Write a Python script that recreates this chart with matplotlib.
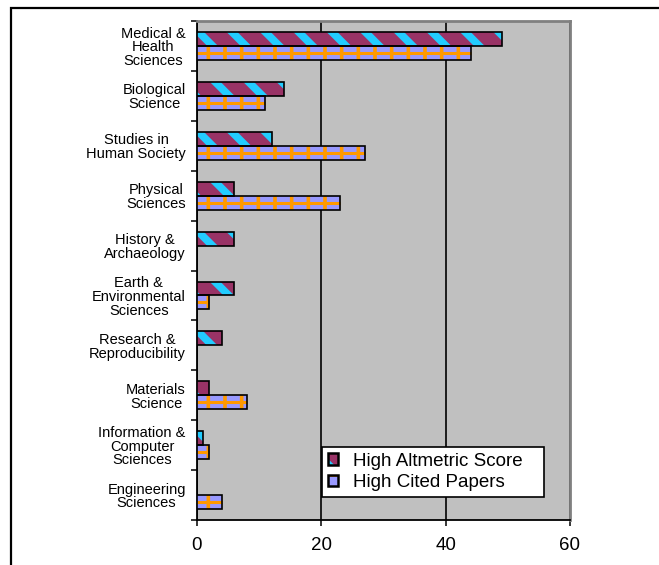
import matplotlib
matplotlib.use("Agg")
import matplotlib.pyplot as plt
import numpy as np
from matplotlib.patches import Patch, Rectangle
from matplotlib.legend_handler import HandlerTuple

plt.rcParams['font.family'] = ['Liberation Sans', 'DejaVu Sans']
plt.rcParams['hatch.linewidth'] = 2.6

fields = [
    "Medical &\nHealth\nSciences",
    "Biological\nScience",
    "Studies in\nHuman Society",
    "Physical\nSciences",
    "History &\nArchaeology",
    "Earth &\nEnvironmental\nSciences",
    "Research &\nReproducibility",
    "Materials\nScience",
    "Information &\nComputer\nSciences",
    "Engineering\nSciences",
]
altmetric = [49, 14, 12, 6, 6, 6, 4, 2, 1, 0]
cited = [44, 11, 27, 23, 0, 2, 0, 8, 2, 4]
x_ticks = [0, 20, 40, 60]

# fill / hatch colour pairs, excel style
ALT_FACE, ALT_HATCH = '#993366', '#22CCFF'
CIT_FACE, CIT_HATCH = '#9999FF', '#FF9900'
ALT_HLW, CIT_HLW = 5.5, 2.6


def set_hatch_width(patch, hlw):
    if hasattr(patch, 'set_hatch_linewidth'):
        patch.set_hatch_linewidth(hlw)
    else:
        patch._hatch_linewidth = hlw


def hatched_barh(ax, y, vals, h, face, hcol, hatch, hlw):
    """bars with coloured hatch, then a black outline on top"""
    bars = ax.barh(y, vals, height=h, color=face, edgecolor=hcol,
                   hatch=hatch, linewidth=0, zorder=3)
    for b in bars:
        set_hatch_width(b, hlw)
    ax.barh(y, vals, height=h, fill=False, edgecolor='black',
            linewidth=1.2, zorder=4)


fig = plt.figure(figsize=(6.59, 5.65), dpi=100)
ax = fig.add_axes([0.2989, 0.0796, 0.5660, 0.8832])
ax.set_facecolor('#C0C0C0')

pos = np.arange(len(fields))
bh = 0.28
hatched_barh(ax, pos - bh / 2, altmetric, bh, ALT_FACE, ALT_HATCH, '\\', ALT_HLW)
hatched_barh(ax, pos + bh / 2, cited, bh, CIT_FACE, CIT_HATCH, '|', CIT_HLW)
# the plaid's horizontal stroke runs through the middle of each cited bar
ax.hlines(pos + bh / 2, 0, cited, colors=CIT_HATCH, linewidth=2.2,
          capstyle='butt', zorder=3.5)

ax.set_xlim(0, 60)
ax.set_ylim(len(fields) - 0.5, -0.5)

ax.set_xticks(x_ticks)
ax.set_xticklabels([str(t) for t in x_ticks], fontsize=13.5)
ax.tick_params(axis='x', direction='out', length=4, width=1.1, pad=8,
               color='black')

# boundaries get the tick marks, centres carry the labels
ax.set_yticks(np.arange(len(fields) + 1) - 0.5)
ax.set_yticklabels([])
ax.set_yticks(pos, minor=True)
ax.set_yticklabels(fields, minor=True, fontsize=10.5, linespacing=0.98)
ax.tick_params(axis='y', which='major', direction='out', length=4, width=1.1)
ax.tick_params(axis='y', which='minor', length=0, pad=8)
for lbl in ax.get_yticklabels(minor=True):
    lbl.set_multialignment('center')

ax.grid(axis='x', color='black', linewidth=1.2, zorder=1)
ax.set_axisbelow(True)

for side in ('left', 'bottom'):
    ax.spines[side].set_color('black')
    ax.spines[side].set_linewidth(1.3)
for side in ('top', 'right'):
    ax.spines[side].set_color('#808080')
    ax.spines[side].set_linewidth(2)


def legend_key(face, hcol, hatch, hlw):
    p = Patch(facecolor=face, edgecolor=hcol, hatch=hatch, linewidth=0)
    set_hatch_width(p, hlw)
    return (p, Patch(fill=False, edgecolor='black', linewidth=1.8))


handles = [legend_key(ALT_FACE, ALT_HATCH, '\\', ALT_HLW),
           legend_key(CIT_FACE, CIT_HATCH, '+', CIT_HLW)]
leg = ax.legend(handles, ['High Altmetric Score', 'High Cited Papers'],
                handler_map={tuple: HandlerTuple(ndivide=1)},
                loc='lower left', bbox_to_anchor=(0.335, 0.046, 0.595, 0.098),
                mode='expand', borderaxespad=0, fontsize=13.5,
                handlelength=0.55, handleheight=0.55, handletextpad=0.8,
                labelspacing=0.25, borderpad=0.3,
                fancybox=False, framealpha=1, edgecolor='black')
leg.get_frame().set_linewidth(1.2)
leg.set_zorder(6)

# outer chart border, running off the right and bottom edges
fig.add_artist(Rectangle((11 / 659, -0.1), 1.0, 0.1 + (565 - 8) / 565,
                         transform=fig.transFigure, fill=False,
                         edgecolor='black', linewidth=1.6))

fig.savefig('out.png', dpi=100)
